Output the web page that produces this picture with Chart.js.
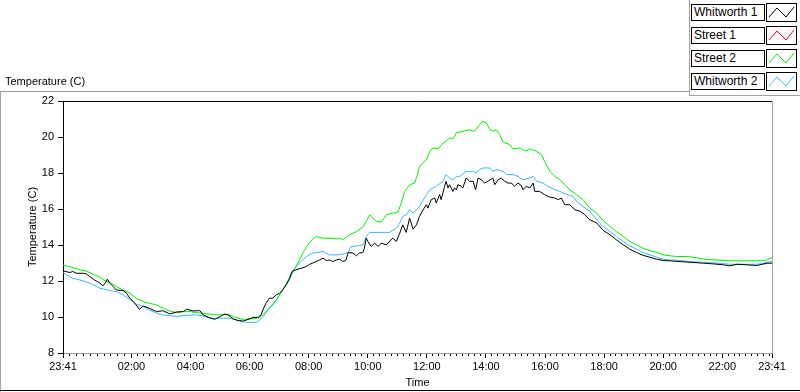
<!DOCTYPE html>
<html><head><meta charset="utf-8">
<script src="https://cdn.jsdelivr.net/npm/chart.js@4/dist/chart.umd.min.js"></script>
<style>
html,body{margin:0;padding:0;background:#fff;width:800px;height:392px;overflow:hidden}
#wrap{position:relative;width:800px;height:392px}
#c{position:absolute;left:0;top:0}
#ttl{position:absolute;left:5px;top:75px;font:11px 'Liberation Sans',Arial,sans-serif;line-height:13px;color:#000;white-space:nowrap}
.ent{position:absolute;left:691px;width:107px;height:18px}
.name{position:absolute;left:0;top:0;width:70px;height:15px;border:1px solid #000;background:#fff;font:12px 'Liberation Sans',Arial,sans-serif;line-height:15px;padding-left:2px;white-space:nowrap;color:#000}
.sw{position:absolute;left:75px;top:-1px}
</style>
</head><body>
<div id="wrap">
<canvas id="c" width="800" height="392"></canvas>
<div id="ttl">Temperature (C)</div>
<div id="legend"></div>
</div>
<script>
// ---- data (minutes after 23:41, temperature in C) ----
const seriesNames = ['Whitworth 1', 'Street 1', 'Street 2', 'Whitworth 2'];
const seriesColors = ['#000000', '#ff0000', '#00ee00', '#3db6f5'];

const xTickMinutes = [0, 139, 259, 379, 499, 619, 739, 859, 979, 1099, 1219, 1339, 1440];
const xTickLabels = ['23:41', '02:00', '04:00', '06:00', '08:00', '10:00', '12:00', '14:00', '16:00', '18:00', '20:00', '22:00', '23:41'];
const yTickValues = [8, 10, 12, 14, 16, 18, 20, 22];

const w1Minutes = [0,14,20,27,41,47,54,64,75,81,88,90,95,102,108,122,129,136,146,155,163,176,190,203,217,231,244,251,264,278,285,298,308,319,329,336,346,356,366,379,385,396,402,406,412,419,426,433,440,446,453,460,465,473,484,494,501,507,514,521,528,535,541,548,555,562,568,575,579,589,596,602,609,612,616,619,626,633,640,646,657,663,670,677,684,690,697,704,711,718,724,731,738,741,748,755,758,765,768,775,778,782,785,792,795,799,802,809,812,819,826,833,838,843,850,856,863,873,877,884,890,897,904,911,917,924,931,934,941,948,955,958,968,978,989,999,1006,1012,1019,1029,1040,1050,1060,1070,1084,1097,1111,1124,1138,1151,1165,1178,1192,1206,1219,1233,1253,1273,1301,1321,1341,1355,1369,1389,1409,1430,1440];
const w1Temps = [12.56,12.47,12.53,12.43,12.43,12.40,12.25,12.06,11.88,11.73,11.97,12.10,11.88,11.69,11.50,11.47,11.32,11.04,10.76,10.43,10.61,10.48,10.30,10.35,10.17,10.28,10.30,10.43,10.34,10.35,10.11,9.96,9.87,10.02,10.17,10.11,9.89,9.80,9.78,9.89,9.98,9.98,10.11,10.39,10.76,11.04,11.04,11.23,11.32,11.50,11.78,12.15,12.53,12.62,12.71,12.80,12.93,12.99,13.08,13.17,13.27,13.14,13.17,13.08,13.17,13.21,13.08,13.17,13.58,13.55,13.40,13.55,13.58,13.82,14.38,14.20,13.92,14.10,13.92,14.10,14.01,14.20,14.38,14.20,14.66,15.12,14.70,15.49,14.88,15.12,15.59,15.94,16.24,16.05,16.52,16.61,16.33,16.80,16.52,17.26,17.54,17.17,17.35,16.98,17.17,17.07,17.35,17.26,17.17,17.72,17.54,17.54,17.07,17.72,17.63,17.44,17.54,17.72,17.35,17.63,17.72,17.54,17.44,17.44,17.26,17.44,17.30,17.07,17.26,17.17,17.44,16.98,16.98,16.80,16.66,16.61,16.52,16.61,16.24,16.24,15.96,15.87,15.68,15.40,15.22,14.81,14.57,14.29,14.01,13.77,13.58,13.43,13.32,13.21,13.14,13.12,13.08,13.04,12.99,12.95,12.90,12.84,12.93,12.90,12.86,12.99,12.99];

const s1Minutes = [];
const s1Temps = [];

const s2Minutes = [0,14,34,47,64,75,85,98,108,122,136,149,163,176,190,203,217,231,244,258,271,285,298,312,325,339,346,356,366,392,402,412,426,440,453,467,477,487,497,507,514,528,541,555,562,568,582,596,609,616,623,626,636,646,657,670,680,687,694,704,714,721,724,731,738,745,751,762,772,778,785,792,799,812,826,833,839,846,853,860,867,873,880,887,894,907,914,928,934,941,948,962,972,978,989,999,1009,1019,1029,1043,1056,1070,1084,1097,1111,1124,1138,1151,1165,1178,1192,1206,1219,1233,1246,1267,1280,1301,1328,1355,1382,1409,1430,1436,1440];
const s2Temps = [12.88,12.80,12.62,12.56,12.34,12.21,12.02,11.88,11.69,11.50,11.32,11.04,10.85,10.76,10.67,10.49,10.33,10.24,10.30,10.30,10.24,10.20,10.16,10.11,10.14,10.11,10.02,9.93,9.87,9.93,10.02,10.30,10.67,11.23,11.78,12.53,12.99,13.55,14.01,14.33,14.47,14.38,14.38,14.33,14.38,14.29,14.57,14.75,14.99,15.31,15.68,15.59,15.31,15.27,15.68,15.77,15.81,16.33,16.98,17.35,17.44,18.00,18.37,18.56,18.74,19.21,19.39,19.34,19.67,19.76,19.95,19.89,20.23,20.32,20.41,20.32,20.41,20.69,20.88,20.78,20.41,20.32,20.41,20.13,19.71,19.58,19.34,19.39,19.30,19.21,19.34,19.21,19.02,18.65,18.09,17.81,17.63,17.35,17.07,16.80,16.52,16.05,15.77,15.36,15.03,14.75,14.47,14.20,14.01,13.82,13.69,13.58,13.45,13.40,13.36,13.36,13.32,13.21,13.17,13.12,13.12,13.12,13.17,13.27,13.27];

const w2Minutes = [0,7,20,34,54,75,95,108,122,136,149,163,176,190,203,217,231,244,258,271,285,298,312,325,339,353,366,392,399,406,419,433,446,460,467,473,484,494,507,528,541,555,568,579,585,599,609,616,623,636,650,663,677,684,690,697,704,711,718,724,731,738,745,758,772,778,785,792,799,806,819,833,839,846,853,867,873,880,894,901,914,924,934,948,955,962,975,985,999,1009,1023,1036,1043,1056,1070,1084,1097,1111,1124,1138,1151,1165,1178,1192,1206,1219,1233,1253,1273,1301,1328,1355,1382,1409,1430,1436,1440];
const w2Temps = [12.47,12.34,12.15,12.06,11.88,11.60,11.47,11.41,11.23,10.98,10.71,10.58,10.39,10.21,10.11,10.08,10.02,10.08,10.11,10.11,10.06,9.93,9.93,9.93,9.93,9.83,9.72,9.69,9.83,10.02,10.48,10.95,11.50,12.06,12.53,12.80,13.08,13.36,13.55,13.64,13.45,13.45,13.49,13.58,13.92,13.95,14.01,14.47,14.70,14.70,14.70,14.70,14.94,15.22,15.59,15.68,15.96,15.77,15.96,16.14,16.47,16.80,17.07,17.26,17.54,17.91,17.72,17.63,17.81,17.81,18.09,18.09,18.00,18.19,18.28,18.28,18.09,18.19,18.09,17.91,17.91,17.81,17.63,17.72,17.81,17.54,17.44,17.26,17.07,16.98,16.80,16.70,16.42,16.14,15.87,15.40,15.01,14.75,14.47,14.20,13.95,13.77,13.58,13.45,13.32,13.21,13.17,13.14,13.08,13.03,12.99,12.93,12.93,12.93,13.03,13.08,13.08];

// ---- build ----
const FONT = "'Liberation Sans', Arial, sans-serif";
const toPoints = (xs, ys) => xs.map((x, i) => ({ x: x, y: ys[i] }));
const allMin = [w1Minutes, s1Minutes, s2Minutes, w2Minutes];
const allTemp = [w1Temps, s1Temps, s2Temps, w2Temps];

// minor ticks: 10 subdivisions between successive major ticks (12 min for 2h)
function minorTicks() {
  const out = [];
  for (let i = 0; i < xTickMinutes.length - 1; i++) {
    const a = xTickMinutes[i], b = xTickMinutes[i + 1];
    const step = (i === 0) ? (b - a) / 10 : 12;
    for (let v = a; v < b - 0.5; v += step) out.push({ value: v });
  }
  out.push({ value: xTickMinutes[xTickMinutes.length - 1] });
  return out;
}

const framePlugin = {
  id: 'frame',
  beforeDraw(chart) {
    const c = chart.ctx;
    c.save();
    c.fillStyle = '#fff';
    c.fillRect(0, 0, chart.width, chart.height);
    c.lineWidth = 1;
    const ln = (x1, y1, x2, y2, col) => { c.strokeStyle = col; c.beginPath(); c.moveTo(x1, y1); c.lineTo(x2, y2); c.stroke(); };
    ln(0, 91.5, 690, 91.5, '#a0a0a0');
    ln(0.5, 91, 0.5, 392, '#a0a0a0');
    ln(689.5, 0, 689.5, 96, '#a0a0a0');
    ln(689, 95.5, 800, 95.5, '#a0a0a0');
    ln(0, 390.5, 800, 390.5, '#000');
    c.restore();
  },
  afterDraw(chart) {
    const a = chart.chartArea, c = chart.ctx;
    c.save();
    c.lineWidth = 1;
    c.strokeStyle = '#000';
    c.beginPath(); c.moveTo(Math.round(a.left) - 0.5, Math.round(a.top) + 0.5); c.lineTo(Math.round(a.right), Math.round(a.top) + 0.5); c.stroke();
    c.strokeStyle = '#a0a0a0';
    c.beginPath(); c.moveTo(Math.round(a.right) + 0.5, Math.round(a.top)); c.lineTo(Math.round(a.right) + 0.5, Math.round(a.bottom) + 1); c.stroke();
    c.restore();
  }
};

new Chart(document.getElementById('c'), {
  type: 'line',
  data: {
    datasets: seriesNames.map((n, i) => ({
      label: n,
      data: toPoints(allMin[i], allTemp[i]),
      borderColor: seriesColors[i],
      backgroundColor: seriesColors[i],
      borderWidth: 1,
      pointRadius: 0,
      tension: 0,
      fill: false
    }))
  },
  options: {
    responsive: false,
    animation: false,
    devicePixelRatio: 1,
    layout: { padding: { left: 0, top: 101, right: 28, bottom: 0 } },
    plugins: { legend: { display: false }, tooltip: { enabled: false }, title: { display: false } },
    scales: {
      x: {
        type: 'linear', min: 0, max: 1440, position: 'bottom', weight: 1,
        afterBuildTicks: s => { s.ticks = xTickMinutes.map(v => ({ value: v })); },
        ticks: { autoSkip: false, maxRotation: 0, minRotation: 0, padding: 2, color: '#000', font: { family: FONT, size: 11 },
          callback: (v, i) => xTickLabels[i] },
        grid: { drawOnChartArea: false, drawTicks: true, tickLength: 5, tickColor: '#000' },
        border: { color: '#a0a0a0', width: 1 },
        title: { display: true, text: 'Time', color: '#000', font: { family: FONT, size: 11 }, padding: { top: 0, bottom: 2 } },
        afterFit: s => { s.height = 39; }
      },
      xMinor: {
        type: 'linear', min: 0, max: 1440, position: 'bottom', weight: 0,
        afterBuildTicks: s => { s.ticks = minorTicks(); },
        ticks: { display: false },
        grid: { drawOnChartArea: false, drawTicks: true, tickLength: 3, tickColor: '#000' },
        border: { display: false },
        afterFit: s => { s.height = 0; }
      },
      y: {
        min: 8, max: 22,
        afterBuildTicks: s => { s.ticks = yTickValues.map(v => ({ value: v })); },
        ticks: { padding: 4, color: '#000', font: { family: FONT, size: 11 } },
        grid: { drawOnChartArea: false, drawTicks: true, tickLength: 5, tickColor: '#000' },
        border: { color: '#000', width: 1 },
        title: { display: true, text: 'Temperature (C)', color: '#000', font: { family: FONT, size: 11 }, padding: { top: 26, bottom: 0 } },
        afterFit: s => { s.width = 63; }
      }
    }
  },
  plugins: [framePlugin]
});

// legend (HTML, real text)
const lg = document.getElementById('legend');
seriesNames.forEach((n, i) => {
  const e = document.createElement('div');
  e.className = 'ent';
  e.style.top = (4 + i * 23) + 'px';
  e.innerHTML = '<div class="name">' + n + '</div>' +
    '<svg class="sw" width="31" height="19"><rect x="0.5" y="0.5" width="30" height="18" fill="#fff" stroke="#000"/>' +
    '<polyline points="3,14 11,5 20,14 28,4" fill="none" stroke="' + seriesColors[i] + '" stroke-width="1"/></svg>';
  lg.appendChild(e);
});
</script>
</body></html>
